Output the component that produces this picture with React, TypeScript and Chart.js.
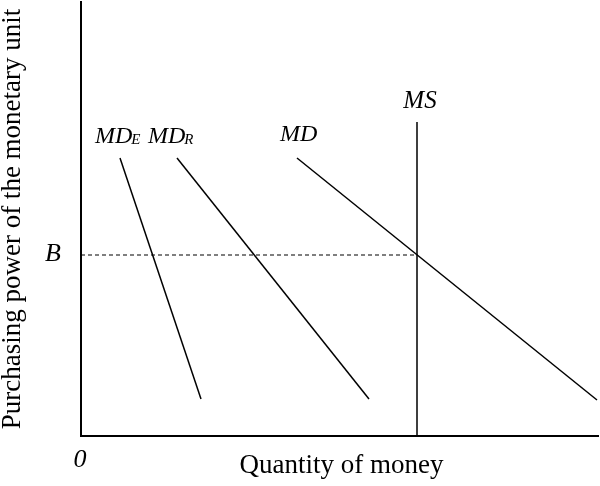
import { useEffect, useRef } from "react";
import { Chart, registerables } from "chart.js";

Chart.register(...registerables);

// Abstract diagram units (quantity of money on x, purchasing power on y)
const X_MAX = 517;
const Y_MAX = 434;

const mdE = [
  { x: 39, y: 278 },
  { x: 120, y: 37 },
];
const mdR = [
  { x: 96, y: 278 },
  { x: 288, y: 37 },
];
const md = [
  { x: 216, y: 278 },
  { x: 516, y: 36 },
];
const ms = [
  { x: 336, y: 314 },
  { x: 336, y: 0 },
];
const bLevel = [
  { x: 0, y: 181 },
  { x: 336, y: 181 },
];

const xTitle = "Quantity of money";
const yTitle = "Purchasing power of the monetary unit";

type Label = { main: string; sub?: string; x: number; y: number; align: CanvasTextAlign; size: number };
const curveLabels: Label[] = [
  { main: "MS", x: 339, y: 328, align: "center", size: 25 },
  { main: "MD", x: 199, y: 295, align: "left", size: 24 },
  { main: "MD", sub: "E", x: 14, y: 293, align: "left", size: 24 },
  { main: "MD", sub: "R", x: 67, y: 293, align: "left", size: 24 },
  { main: "B", x: -28, y: 175, align: "center", size: 26 },
  { main: "0", x: -1, y: -31, align: "center", size: 26 },
];

const FONT = '"Liberation Serif", "DejaVu Serif", serif';

const textPlugin = {
  id: "diagramText",
  afterDraw(chart: any) {
    const { ctx, chartArea, scales } = chart;
    const xs = scales.x;
    const ys = scales.y;
    ctx.save();
    ctx.fillStyle = "#000";
    ctx.textBaseline = "alphabetic";
    for (const l of curveLabels) {
      const px = xs.getPixelForValue(l.x);
      const py = ys.getPixelForValue(l.y);
      ctx.font = `italic ${l.size}px ${FONT}`;
      ctx.textAlign = l.align;
      ctx.fillText(l.main, px, py);
      if (l.sub) {
        const w = ctx.measureText(l.main).width;
        ctx.font = `italic 15px ${FONT}`;
        ctx.textAlign = "left";
        ctx.fillText(l.sub, px + w - 1, py + 1);
      }
    }
    ctx.font = `27px ${FONT}`;
    ctx.textAlign = "center";
    ctx.fillText(xTitle, (chartArea.left + chartArea.right) / 2 + 2, chartArea.bottom + 37);
    ctx.save();
    ctx.translate(chartArea.left - 61, (chartArea.top + chartArea.bottom) / 2);
    ctx.rotate(-Math.PI / 2);
    ctx.fillText(yTitle, 0, 0);
    ctx.restore();
    ctx.restore();
  },
};

export default function App() {
  const ref = useRef<HTMLCanvasElement | null>(null);
  useEffect(() => {
    document.body.style.margin = "0";
    const lineDs = (data: any[], extra: any = {}) => ({
      data,
      showLine: true,
      borderColor: "#000",
      borderWidth: 1.5,
      pointRadius: 0,
      fill: false,
      clip: false as any,
      ...extra,
    });
    const chart = new Chart(ref.current as HTMLCanvasElement, {
      type: "scatter",
      data: {
        datasets: [
          lineDs(mdE),
          lineDs(mdR),
          lineDs(md),
          lineDs(ms),
          lineDs(bLevel, { borderWidth: 1.2, borderDash: [4, 3] }),
        ],
      },
      options: {
        animation: false,
        responsive: false,
        layout: { padding: { left: 81, top: 2, right: 2, bottom: 50 } },
        plugins: { legend: { display: false }, tooltip: { enabled: false } },
        scales: {
          x: {
            type: "linear",
            min: 0,
            max: X_MAX,
            grid: { display: false },
            ticks: { display: false },
            border: { display: true, color: "#000", width: 2 },
            afterFit: (s: any) => {
              s.height = 0;
            },
          },
          y: {
            type: "linear",
            min: 0,
            max: Y_MAX,
            grid: { display: false },
            ticks: { display: false },
            border: { display: true, color: "#000", width: 2 },
            afterFit: (s: any) => {
              s.width = 0;
            },
          },
        },
      },
      plugins: [textPlugin],
    });
    return () => chart.destroy();
  }, []);
  return (
    <div style={{ width: 600, height: 486, background: "#fff" }}>
      <canvas ref={ref} width={600} height={486} style={{ display: "block" }} />
    </div>
  );
}
